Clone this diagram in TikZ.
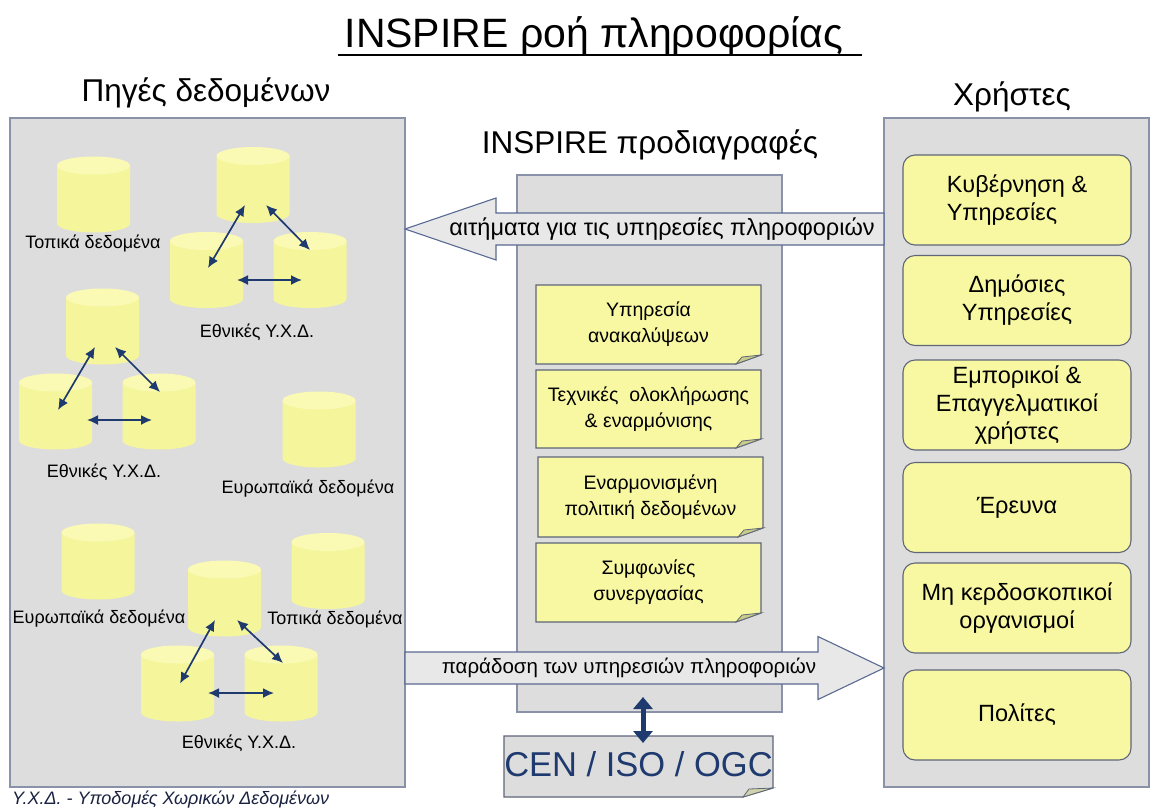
\documentclass[tikz,border=0pt]{standalone}
\usepackage{fontspec}
\setmainfont{Liberation Sans}
\usetikzlibrary{arrows.meta}
\definecolor{panelgray}{HTML}{DDDDDD}
\definecolor{panelborder}{HTML}{8A92AA}
\definecolor{cylbody}{HTML}{F5F69C}
\definecolor{cyltop}{HTML}{FAFAB4}
\definecolor{noteyellow}{HTML}{F8F8A2}
\definecolor{noteborder}{HTML}{5E6678}
\definecolor{flapcol}{HTML}{C9CC8A}
\definecolor{navy}{HTML}{1F3A6E}
\definecolor{arrowfill}{HTML}{E8E8E8}
\definecolor{arrowborder}{HTML}{5A6A92}
\definecolor{footcol}{HTML}{1A2240}
\tikzset{
  panel/.style={draw=panelborder, fill=panelgray, line width=1.2pt, inner sep=0pt, outer sep=0pt},
  cyl/.style={minimum width=73pt, minimum height=76pt, inner sep=0pt, outer sep=0pt,
    path picture={
      \fill[cylbody] ([yshift=-9pt]path picture bounding box.north west) --
        ([yshift=9pt]path picture bounding box.south west)
        arc[start angle=180, end angle=360, x radius=36.5pt, y radius=9pt] --
        ([yshift=-9pt]path picture bounding box.north east) -- cycle;
      \fill[cyltop] ([yshift=-9pt]path picture bounding box.north) ellipse[x radius=36.5pt, y radius=9pt];
    }},
  cyllabel/.style={font=\fontsize{18}{22}\selectfont, inner sep=0pt},
  link/.style={draw=navy, line width=1.7pt, {Latex[length=11pt,width=10pt]}-{Latex[length=11pt,width=10pt]}},
  userbox/.style={draw=noteborder, fill=noteyellow, line width=1.1pt, rounded corners=12pt,
    minimum width=228pt, minimum height=90pt, align=center, inner sep=2pt,
    font=\fontsize{23.5}{28}\selectfont},
  notetext/.style={align=center, inner sep=0pt, font=\fontsize{19.5}{26}\selectfont},
  bigarrow/.style={draw=arrowborder, fill=arrowfill, line width=1.1pt},
  heading/.style={font=\fontsize{31.5}{36}\selectfont, inner sep=0pt},
}
\newcommand{\notebox}[7]{%
  \fill[#7, draw=noteborder, line width=1.1pt] (#2,-#3) -- (#4,-#3) -- (#4,{-#5+9}) -- ({#4-25},-#5) -- (#2,-#5) -- cycle;
  \fill[flapcol, draw=noteborder, line width=0.8pt] (#4,{-#5+9}) -- ({#4-25},-#5) -- ({#4-19},{-#5+7}) -- cycle;
  \node[notetext] (#1) at ({(#2+#4)/2},{-(#3+#5)/2}) {#6};
}
\begin{document}
\begin{tikzpicture}[x=1pt,y=1pt]
\useasboundingbox (0,0) rectangle (1150,-809);
\fill[white] (0,0) rectangle (1150,-809);

% title and headings
\node[font=\fontsize{41}{46}\selectfont, inner sep=0pt] (title) at (594,-36) {INSPIRE ροή πληροφορίας};
\draw[line width=1.5pt] (338,-55) -- (862,-55);
\node[heading] (hsrc) at (206,-93) {Πηγές δεδομένων};
\node[heading] (husr) at (1012,-97) {Χρήστες};
\node[heading] (hspec) at (650,-145) {INSPIRE προδιαγραφές};

% panels
\node[panel, minimum width=395pt, minimum height=669pt] (src) at (207.5,-452.5) {};
\node[panel, minimum width=265pt, minimum height=669pt] (usr) at (1016.5,-452.5) {};
\node[panel, minimum width=265pt, minimum height=537pt] (spec) at (649.5,-443.5) {};

% cylinders
\node[cyl] (c1) at (93.5,-194.5) {};
\node[cyl] (g1t) at (253,-185) {};
\node[cyl] (g1l) at (206.5,-270) {};
\node[cyl] (g1r) at (310,-270) {};
\node[cyl] (g2t) at (102.5,-326.5) {};
\node[cyl] (g2l) at (55.5,-411.5) {};
\node[cyl] (g2r) at (159,-411.5) {};
\node[cyl] (e1) at (319,-429.5) {};
\node[cyl] (e2) at (98,-561.5) {};
\node[cyl] (c2) at (328,-571) {};
\node[cyl] (g3t) at (224.5,-598.5) {};
\node[cyl] (g3l) at (177.5,-683.5) {};
\node[cyl] (g3r) at (281,-683.5) {};

% cylinder labels
\node[cyllabel] (lc1) at (93,-243) {Τοπικά δεδομένα};
\node[cyllabel] (lg1) at (257,-332) {Εθνικές Υ.Χ.Δ.};
\node[cyllabel] (lg2) at (104,-472) {Εθνικές Υ.Χ.Δ.};
\node[cyllabel] (le1) at (308,-489) {Ευρωπαϊκά δεδομένα};
\node[cyllabel] (le2) at (99,-619) {Ευρωπαϊκά δεδομένα};
\node[cyllabel] (lc2) at (335,-619) {Τοπικά δεδομένα};
\node[cyllabel] (lg3) at (239,-743) {Εθνικές Υ.Χ.Δ.};

% links between cylinders
\draw[link] ([shift={(-8,-20)}]g1t.center) -- ([shift={(1.5,2)}]g1l.center);
\draw[link] ([shift={(13,-20)}]g1t.center) -- ([shift={(0,20)}]g1r.center);
\draw[link] ([shift={(30.5,-10)}]g1l.center) -- ([shift={(-8,-10)}]g1r.center);
\draw[link] ([shift={(-7.5,-20.5)}]g2t.center) -- ([shift={(2.5,1.5)}]g2l.center);
\draw[link] ([shift={(12.5,-20.5)}]g2t.center) -- ([shift={(1,19.5)}]g2r.center);
\draw[link] ([shift={(31.5,-8.5)}]g2l.center) -- ([shift={(-7,-8.5)}]g2r.center);
\draw[link] ([shift={(-9.5,-21.5)}]g3t.center) -- ([shift={(2.5,0)}]g3l.center);
\draw[link] ([shift={(12.5,-21.5)}]g3t.center) -- ([shift={(2,20.5)}]g3r.center);
\draw[link] ([shift={(30.5,-9.5)}]g3l.center) -- ([shift={(-7,-9.5)}]g3r.center);

% spec notes
\notebox{n1}{536}{285}{761}{364}{Υπηρεσία\\ανακαλύψεων}{noteyellow}
\notebox{n2}{536}{370}{761}{448}{Τεχνικές\ \ ολοκλήρωσης\\\& εναρμόνισης}{noteyellow}
\notebox{n3}{538}{457}{763}{537}{Εναρμονισμένη\\πολιτική δεδομένων}{noteyellow}
\notebox{n4}{536}{543}{761}{622}{Συμφωνίες\\συνεργασίας}{noteyellow}

% big arrows
\draw[bigarrow] (884,-213) -- (496,-213) -- (496,-198) -- (405,-229) -- (496,-260) -- (496,-245) -- (884,-245) -- cycle;
\node[font=\fontsize{23.5}{28}\selectfont, inner sep=0pt] (req) at (662,-229) {αιτήματα για τις υπηρεσίες πληροφοριών};
\draw[bigarrow] (405,-652) -- (818,-652) -- (818,-636.5) -- (884,-668) -- (818,-699.5) -- (818,-684) -- (405,-684) -- cycle;
\node[font=\fontsize{20.5}{24}\selectfont, inner sep=0pt] (dlv) at (629,-668) {παράδοση των υπηρεσιών πληροφοριών};

% CEN box
\fill[panelgray, draw=noteborder, line width=1.1pt] (504,-736) -- (773,-736) -- (773,-788) -- (743,-797) -- (504,-797) -- cycle;
\fill[flapcol!60!panelgray, draw=noteborder, line width=0.8pt] (773,-788) -- (743,-797) -- (749,-789) -- cycle;
\node[font=\fontsize{34.5}{40}\selectfont, text=navy, inner sep=0pt] (cen) at (638.5,-764) {CEN / ISO / OGC};
\coordinate (ca) at (643,-697);
\coordinate (cb) at (643,-743);
\draw[draw=navy, line width=5pt, {Triangle[length=12pt,width=19pt]}-{Triangle[length=12pt,width=19pt]}] (ca) -- (cb);

% user boxes
\node[userbox, align=left] (u1) at (1017,-200) {Κυβέρνηση \&\\Υπηρεσίες};
\node[userbox] (u2) at (1017,-300.5) {Δημόσιες\\Υπηρεσίες};
\node[userbox] (u3) at (1017,-405) {Εμπορικοί \&\\Επαγγελματικοί\\χρήστες};
\node[userbox] (u4) at (1017,-507.5) {Έρευνα};
\node[userbox] (u5) at (1017,-608) {Μη κερδοσκοπικοί\\οργανισμοί};
\node[userbox] (u6) at (1017,-715) {Πολίτες};

% footer
\node[anchor=west, inner sep=0pt, text=footcol, font=\itshape\fontsize{18}{21}\selectfont] (foot) at (12,-800) {Υ.Χ.Δ. - Υποδομές Χωρικών Δεδομένων};
\end{tikzpicture}
\end{document}
